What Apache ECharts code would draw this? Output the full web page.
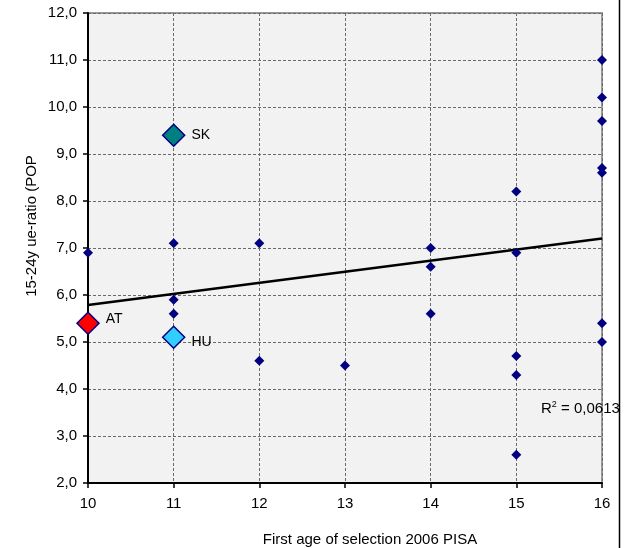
<!DOCTYPE html>
<html>
<head>
<meta charset="utf-8">
<script src="https://cdn.jsdelivr.net/npm/echarts@6/dist/echarts.min.js"></script>
<style>html,body{margin:0;padding:0;background:#fff}#c{width:625px;height:548px}</style>
</head>
<body>
<div id="c"></div>
<script>
// Data
var ageX = [10, 11, 11, 11, 12, 12, 13, 14, 14, 14, 15, 15, 15, 15, 15, 16, 16, 16, 16, 16, 16, 16];
var ratioY = [6.9, 7.1, 5.9, 5.6, 7.1, 4.6, 4.5, 7.0, 6.6, 5.6, 8.2, 6.9, 4.7, 4.3, 2.6, 11.0, 10.2, 9.7, 8.7, 8.6, 5.4, 5.0];
var highlightNames = ['SK', 'AT', 'HU'];
var highlightX = [11, 10, 11];
var highlightY = [9.4, 5.4, 5.1];
var highlightColors = ['#008080', '#FF0000', '#33CCFF'];
var xTicks = [10, 11, 12, 13, 14, 15, 16];
var yTicks = [2, 3, 4, 5, 6, 7, 8, 9, 10, 11, 12];
var xTitle = 'First age of selection 2006 PISA';
var yTitle = '15-24y ue-ratio (POP';
var r2Text = '0,0613';

// linear trend (least squares over all points)
var allX = ageX.concat(highlightX), allY = ratioY.concat(highlightY);
var n = allX.length, mx = 0, my = 0;
for (var i = 0; i < n; i++) { mx += allX[i]; my += allY[i]; }
mx /= n; my /= n;
var sxy = 0, sxx = 0;
for (i = 0; i < n; i++) { sxy += (allX[i] - mx) * (allY[i] - my); sxx += (allX[i] - mx) * (allX[i] - mx); }
var slope = sxy / sxx, icpt = my - slope * mx;
var xMin = xTicks[0], xMax = xTicks[xTicks.length - 1];
var trend = [[xMin, icpt + slope * xMin], [xMax, icpt + slope * xMax]];

var pts = ageX.map(function (x, k) { return [x, ratioY[k]]; });
var hl = highlightNames.map(function (nm, k) {
  return {
    value: [highlightX[k], highlightY[k]], name: nm,
    itemStyle: { color: highlightColors[k] },
    label: { offset: nm === 'HU' ? [0, 5] : (nm === 'AT' ? [0, -4] : [0, 0]) }
  };
});

var chart = echarts.init(document.getElementById('c'), null, { renderer: 'canvas' });
var font = 'Arial, "Liberation Sans", sans-serif';
chart.setOption({
  animation: false,
  backgroundColor: '#fff',
  grid: { left: 88, right: 23, top: 13, bottom: 65, show: true, backgroundColor: '#F2F2F2', borderColor: '#9a9a9a', borderWidth: 2 },
  xAxis: {
    type: 'value', min: xMin, max: xMax, interval: 1,
    axisLine: { lineStyle: { color: '#000', width: 2 } },
    axisTick: { show: true, length: 5, lineStyle: { color: '#000', width: 1.5 } },
    axisLabel: { fontFamily: font, fontSize: 15, color: '#000', margin: 13 },
    splitLine: { show: true, lineStyle: { color: '#6a6a6a', type: [3, 2], width: 1 } }
  },
  yAxis: {
    type: 'value', min: yTicks[0], max: yTicks[yTicks.length - 1], interval: 1,
    axisLine: { lineStyle: { color: '#000', width: 2 } },
    axisTick: { show: true, length: 5, lineStyle: { color: '#000', width: 1.5 } },
    axisLabel: { fontFamily: font, fontSize: 15, color: '#000', margin: 11,
      formatter: function (v) { return v.toFixed(1).replace('.', ','); } },
    splitLine: { show: true, lineStyle: { color: '#6a6a6a', type: [3, 2], width: 1 } }
  },
  series: [
    {
      type: 'line', data: trend, symbol: 'none', z: 3,
      lineStyle: { color: '#000', width: 2.5 }
    },
    {
      type: 'scatter', data: pts, symbol: 'diamond', symbolSize: 10, z: 4,
      itemStyle: { color: '#000080', opacity: 1 }
    },
    {
      type: 'scatter', data: hl, symbol: 'diamond', symbolSize: 22, z: 5,
      itemStyle: { borderColor: '#000080', borderWidth: 1.5, opacity: 1 },
      label: { show: true, position: 'right', distance: 6, formatter: '{b}',
        fontFamily: font, fontSize: 14, color: '#000' }
    }
  ],
  graphic: [
    {
      type: 'text', x: 370, y: 540, z: 10,
      style: { text: xTitle, fontFamily: font, fontSize: 15, fill: '#000', textAlign: 'center', textVerticalAlign: 'middle' }
    },
    {
      type: 'text', x: 32, y: 226, rotation: Math.PI / 2, z: 10,
      style: { text: yTitle, fontFamily: font, fontSize: 15, fill: '#000', textAlign: 'center', textVerticalAlign: 'middle' }
    },
    {
      type: 'text', left: 541, top: 400, z: 10,
      style: {
        text: '{b|R}{s|2}{b| = ' + r2Text + '}',
        rich: {
          b: { fontFamily: font, fontSize: 15, fill: '#000', verticalAlign: 'bottom' },
          s: { fontFamily: font, fontSize: 9, fill: '#000', verticalAlign: 'top', padding: [0, 0, 7, 0] }
        }
      }
    },
    { type: 'rect', shape: { x: 619, y: 0, width: 6, height: 548 }, style: { fill: '#fff' }, z: 11 },
    { type: 'line', shape: { x1: 619.5, y1: 0, x2: 619.5, y2: 548 }, style: { stroke: '#000', lineWidth: 1.5 }, z: 12 }
  ]
});
</script>
</body>
</html>
